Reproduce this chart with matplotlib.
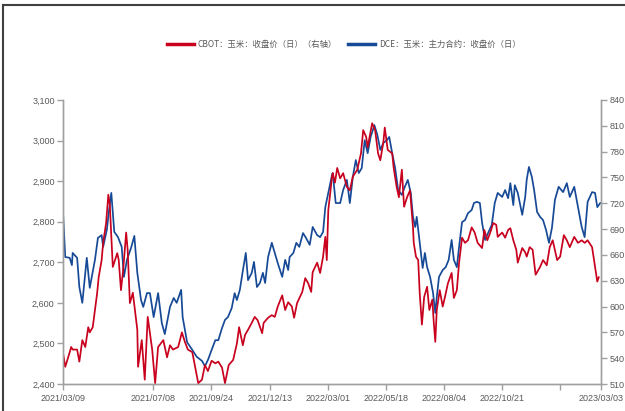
import matplotlib
matplotlib.use("Agg")
import matplotlib.pyplot as plt
import matplotlib.dates as mdates
from matplotlib.lines import Line2D
from matplotlib.ticker import FuncFormatter, FixedLocator
import pandas as pd

start = pd.Timestamp("2021-03-09")
end = pd.Timestamp("2023-03-03")

# DCE corn, main contract close (left axis), days counted from 2021-03-09
dce_day = [0, 3, 9, 12, 13, 19, 22, 26, 32, 36, 43, 47, 52, 54, 59, 62, 65, 69, 74, 79,
           82, 86, 92, 96, 100, 105, 108, 113, 117, 122, 128, 133, 137, 144, 149, 153, 159, 161, 167, 174,
           180, 187, 191, 195, 200, 205, 209, 214, 218, 222, 227, 231, 234, 238, 242, 246, 249, 254, 257, 261,
           265, 269, 272, 276, 281, 285, 289, 295, 299, 303, 305, 310, 314, 318, 323, 327, 332, 336, 342, 346,
           350, 353, 357, 362, 363, 367, 373, 377, 382, 386, 390, 394, 398, 402, 406, 410, 414, 419, 423, 427,
           431, 436, 439, 443, 447, 451, 456, 460, 464, 468, 471, 474, 476, 480, 484, 487, 490, 494, 498, 501,
           503, 506, 511, 515, 519, 523, 526, 530, 533, 537, 541, 545, 550, 553, 557, 561, 564, 568, 572, 577,
           581, 585, 591, 595, 599, 602, 606, 608, 612, 618, 622, 624, 627, 631, 634, 638, 642, 646, 650, 654,
           658, 662, 667, 673, 678, 682, 688, 693, 698, 702, 706, 712, 716, 719, 723]
dce_val = [2824, 2713, 2711, 2693, 2723, 2711, 2639, 2600, 2711, 2637, 2706, 2760, 2767, 2738, 2780, 2829, 2871, 2775, 2762, 2738,
           2664, 2706, 2738, 2765, 2674, 2607, 2590, 2624, 2624, 2565, 2624, 2550, 2523, 2590, 2612, 2600, 2632, 2565, 2503, 2484,
           2467, 2457, 2444, 2459, 2484, 2508, 2508, 2538, 2558, 2565, 2587, 2624, 2607, 2632, 2679, 2723, 2656, 2674, 2701, 2639,
           2649, 2674, 2649, 2713, 2748, 2723, 2698, 2664, 2706, 2681, 2713, 2723, 2748, 2738, 2772, 2760, 2743, 2787, 2767, 2762,
           2775, 2836, 2871, 2915, 2920, 2846, 2846, 2878, 2903, 2846, 2910, 2952, 2920, 2932, 3001, 2969, 3009, 3038, 3014, 2977,
           2994, 3001, 3009, 2969, 2932, 2878, 2866, 2886, 2903, 2871, 2812, 2787, 2812, 2748, 2686, 2723, 2688, 2664, 2624, 2575,
           2614, 2664, 2681, 2688, 2706, 2755, 2706, 2688, 2738, 2799, 2804, 2821, 2829, 2846, 2849, 2846, 2797, 2755, 2772, 2792,
           2846, 2871, 2861, 2878, 2858, 2895, 2841, 2890, 2871, 2817, 2861, 2903, 2935, 2910, 2878, 2824, 2812, 2804, 2780, 2748,
           2785, 2854, 2886, 2873, 2895, 2861, 2886, 2836, 2787, 2762, 2849, 2873, 2871, 2836, 2846]

# CBOT corn close (right axis)
cbot_day = [0, 3, 7, 11, 13, 19, 22, 26, 30, 34, 36, 40, 46, 48, 52, 54, 58, 61, 63, 67,
            73, 75, 78, 81, 85, 87, 90, 94, 100, 101, 106, 110, 114, 120, 124, 128, 135, 140, 144, 148,
            155, 160, 164, 168, 174, 178, 182, 187, 191, 195, 200, 205, 209, 214, 218, 223, 229, 234, 237, 242,
            245, 249, 254, 258, 262, 268, 270, 276, 281, 285, 289, 295, 299, 303, 308, 311, 315, 322, 326, 330,
            334, 336, 342, 346, 350, 353, 355, 357, 359, 362, 363, 366, 369, 373, 377, 382, 386, 390, 396, 401,
            404, 408, 410, 416, 420, 424, 427, 431, 433, 437, 443, 445, 449, 452, 456, 459, 463, 467, 471, 472,
            475, 478, 480, 483, 486, 490, 493, 497, 499, 501, 503, 507, 511, 514, 518, 523, 526, 530, 533, 537,
            541, 545, 550, 554, 558, 564, 567, 571, 575, 579, 583, 585, 591, 595, 599, 602, 606, 610, 612, 618,
            622, 624, 628, 632, 636, 642, 646, 651, 655, 659, 665, 669, 674, 678, 682, 688, 693, 698, 702, 706,
            712, 716, 719, 721]
cbot_val = [546, 530, 541, 553, 550, 550, 536, 561, 553, 576, 570, 576, 616, 634, 654, 674, 697, 730, 718, 646,
            662, 654, 619, 643, 686, 666, 604, 616, 573, 530, 561, 515, 588, 550, 511, 553, 561, 541, 555, 550,
            553, 570, 559, 550, 547, 529, 511, 515, 532, 525, 537, 534, 536, 529, 511, 532, 538, 557, 576, 555,
            567, 573, 581, 588, 584, 569, 581, 587, 590, 588, 600, 613, 596, 605, 600, 587, 604, 617, 633, 627,
            617, 640, 651, 639, 658, 681, 654, 712, 727, 751, 755, 744, 761, 749, 755, 739, 735, 751, 759, 778,
            805, 797, 785, 813, 805, 778, 770, 790, 808, 782, 778, 761, 739, 727, 759, 716, 727, 735, 692, 674,
            658, 654, 616, 579, 611, 623, 596, 608, 581, 559, 596, 619, 600, 611, 627, 639, 610, 619, 651, 680,
            674, 677, 692, 686, 674, 668, 689, 677, 686, 697, 695, 681, 686, 680, 689, 691, 677, 666, 651, 668,
            663, 658, 669, 666, 637, 646, 654, 648, 669, 677, 654, 658, 683, 677, 669, 681, 674, 677, 674, 677,
            669, 646, 629, 634]

left_ticks = [2400, 2500, 2600, 2700, 2800, 2900, 3000, 3100]
right_ticks = [510, 540, 570, 600, 630, 660, 690, 720, 750, 780, 810, 840]
date_ticks = ["2021/03/09", "2021/07/08", "2021/09/24", "2021/12/13", "2022/03/01",
              "2022/05/18", "2022/08/04", "2022/10/21", "2023/01/07", "2023/03/03"]
date_labels = ["2021/03/09", "2021/07/08", "2021/09/24", "2021/12/13", "2022/03/01",
               "2022/05/18", "2022/08/04", "2022/10/21", "", "2023/03/03"]

label_cbot = "CBOT：玉米：收盘价（日）（右轴）"
label_dce = "DCE：玉米：主力合约：收盘价（日）"

red = "#C8001E"
blue = "#174A96"
grey_txt = "#595959"
grey_axis = "#A0A0A0"

dce_dates = start + pd.to_timedelta(dce_day, unit="D")
cbot_dates = start + pd.to_timedelta(cbot_day, unit="D")

fig = plt.figure(figsize=(6.25, 4.11), dpi=100)
ax = fig.add_axes([63 / 625, 1 - 384 / 411, 538 / 625, 284 / 411])
ax2 = ax.twinx()

ax.plot(dce_dates, dce_val, color=blue, lw=1.25)
ax2.plot(cbot_dates, cbot_val, color=red, lw=1.25)

ax.set_xlim(start, end)
ax.set_ylim(2400, 3100)
ax2.set_ylim(510, 840)
ax.set_yticks(left_ticks)
ax2.set_yticks(right_ticks)
ax.yaxis.set_major_formatter(FuncFormatter(lambda v, p: f"{int(v):,}"))

tick_pos = [mdates.date2num(pd.Timestamp(d)) for d in date_ticks]
ax.xaxis.set_major_locator(FixedLocator(tick_pos))
ax.set_xticklabels(date_labels)

for a in (ax, ax2):
    for s in a.spines.values():
        s.set_color(grey_axis)
        s.set_linewidth(1.0)
    a.spines["top"].set_visible(False)
    a.tick_params(colors=grey_axis, labelcolor=grey_txt, labelsize=6.5, length=4, width=1.0, direction="out")
    for lab in a.get_xticklabels() + a.get_yticklabels():
        lab.set_family("Liberation Sans")
ax.tick_params(axis="x", pad=3)
ax.tick_params(axis="y", pad=2)
ax2.tick_params(axis="y", pad=2)

handles = [Line2D([], [], color=red, lw=2.5), Line2D([], [], color=blue, lw=2.5)]
fig.legend(handles, [label_cbot, label_dce], loc="center", bbox_to_anchor=(0.55, 1 - 44 / 411),
           ncol=2, frameon=False, handlelength=3.2, handletextpad=0.5, columnspacing=1.3,
           prop={"family": ["Noto Sans CJK SC", "DejaVu Sans"], "size": 6}, labelcolor=grey_txt)

# outer frame of the source picture
fig.add_artist(Line2D([3 / 625, 3 / 625], [0, 1 - 5 / 411], transform=fig.transFigure, color="#404040", lw=1.5))
fig.add_artist(Line2D([3 / 625, 1], [1 - 5 / 411, 1 - 5 / 411], transform=fig.transFigure, color="#404040", lw=1.5))

fig.savefig("out.png", dpi=100)
